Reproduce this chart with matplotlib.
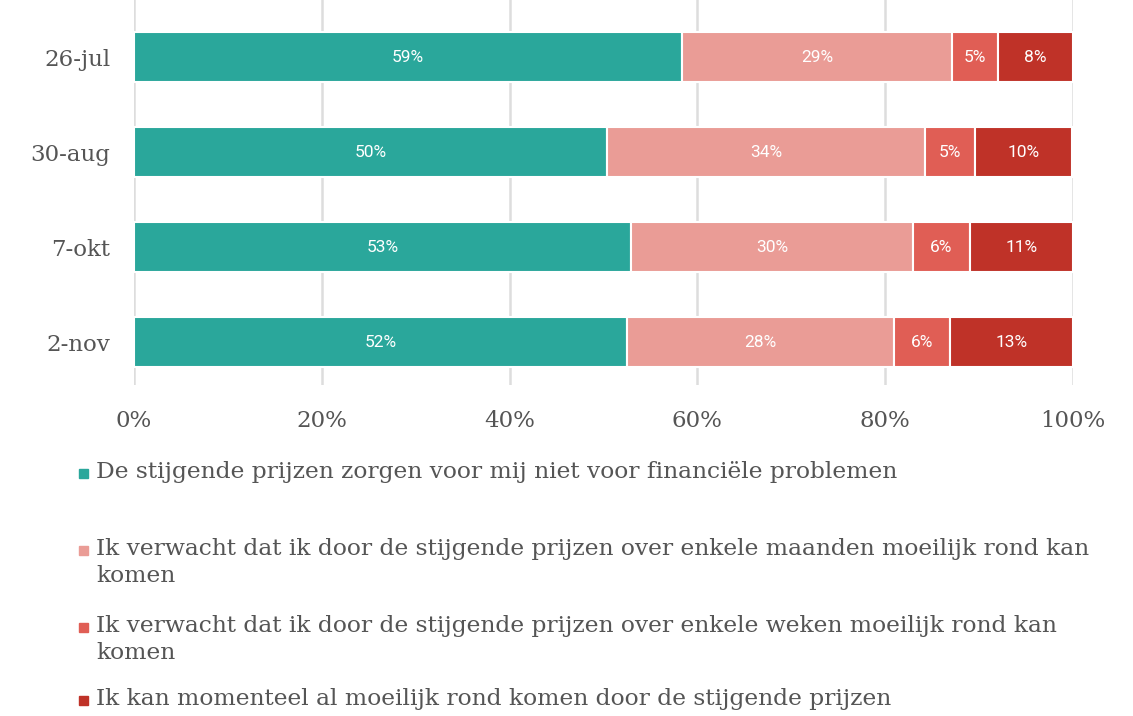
import matplotlib
matplotlib.use("Agg")
from matplotlib import pyplot as plt
from matplotlib.patches import Rectangle
import numpy as np

dates = ["26-jul", "30-aug", "7-okt", "2-nov"]
geen = [58.4, 50.4, 52.9, 52.5]
maanden = [28.7, 33.8, 30.1, 28.4]
weken = [4.9, 5.4, 6.0, 6.0]
nu = [8.0, 10.3, 11.0, 13.1]
labels_geen = ["59%", "50%", "53%", "52%"]
labels_maanden = ["29%", "34%", "30%", "28%"]
labels_weken = ["5%", "5%", "6%", "6%"]
labels_nu = ["8%", "10%", "11%", "13%"]
legend_labels = [
    "De stijgende prijzen zorgen voor mij niet voor financiële problemen",
    "Ik verwacht dat ik door de stijgende prijzen over enkele maanden moeilijk rond kan\nkomen",
    "Ik verwacht dat ik door de stijgende prijzen over enkele weken moeilijk rond kan\nkomen",
    "Ik kan momenteel al moeilijk rond komen door de stijgende prijzen",
]
xticks = [0, 20, 40, 60, 80, 100]

colors = ["#2aa79b", "#ea9c96", "#e05e55", "#bf3228"]
grey = "#555555"
serif = "DejaVu Serif"

fig = plt.figure(figsize=(11.33, 7.16), dpi=100)
ax = fig.add_axes([134 / 1133, 1 - 385 / 716, 939 / 1133, 385 / 716])

series = [geen, maanden, weken, nu]
texts = [labels_geen, labels_maanden, labels_weken, labels_nu]
y = np.arange(len(dates))
left = np.zeros(len(dates))
for vals, labs, c in zip(series, texts, colors):
    bars = ax.barh(y, vals, left=left, height=0.53, color=c,
                   edgecolor="white", linewidth=1.5, zorder=3)
    for b, t in zip(bars, labs):
        ax.text(b.get_x() + b.get_width() / 2, b.get_y() + b.get_height() / 2, t,
                ha="center", va="center", color="white", fontsize=12.5,
                family="Roboto", zorder=4)
    left = left + np.array(vals)

ax.set_xlim(0, 100)
ax.set_ylim(3.45, -0.6)
ax.set_xticks(xticks)
ax.set_xticklabels([f"{v}%" for v in xticks])
ax.set_yticks(y)
ax.set_yticklabels(dates)
for v in xticks:
    ax.axvline(v, color="#dddddd", linewidth=1.8, zorder=1)
for s in ax.spines.values():
    s.set_visible(False)
ax.tick_params(length=0, labelsize=16.5, labelcolor=grey, pad=18)
ax.tick_params(axis="y", pad=17)
for lab in ax.get_xticklabels() + ax.get_yticklabels():
    lab.set_family(serif)

# legend
ly = [473, 550, 627, 700]
for lab, c, yy in zip(legend_labels, colors, ly):
    fig.add_artist(Rectangle((79 / 1133, 1 - (yy + 5) / 716), 9 / 1133, 9 / 716,
                             color=c, transform=fig.transFigure))
    fig.text(96 / 1133, 1 - (yy - 12) / 716, lab, ha="left", va="top",
             fontsize=16.8, color=grey, family=serif, linespacing=1.3)

fig.savefig("out.png", dpi=100)
